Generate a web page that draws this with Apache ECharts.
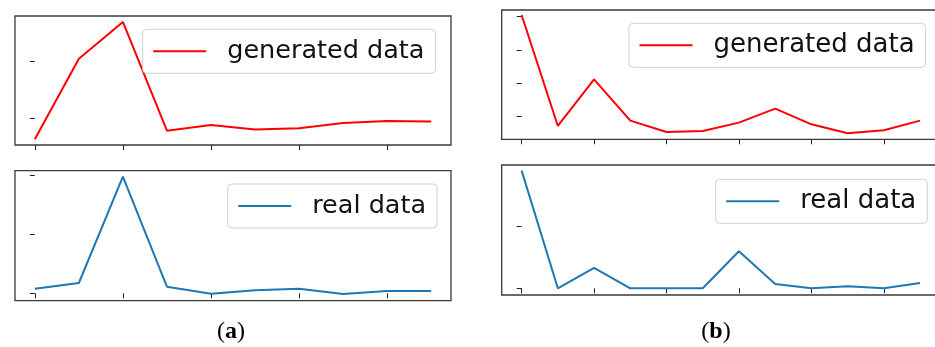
<!DOCTYPE html>
<html>
<head>
<meta charset="utf-8">
<script src="https://cdn.jsdelivr.net/npm/echarts@6/dist/echarts.min.js"></script>
<style>
html,body{margin:0;padding:0;background:#fff;}
#chart{width:935px;height:347px;}
</style>
</head>
<body>
<div id="chart"></div>
<script>
// ---- data ----
const stepsA = [0,1,2,3,4,5,6,7,8,9];
const generatedA = [0.626, 2.04, 2.684, 0.777, 0.877, 0.80, 0.82, 0.912, 0.947, 0.94];
const realA = [0.078, 0.175, 1.983, 0.112, -0.007, 0.051, 0.078, -0.012, 0.039, 0.039];
const stepsB = [0,1,2,3,4,5,6,7,8,9,10,11];
const generatedB = [4.05, 0.72, 2.12, 0.88, 0.54, 0.57, 0.82, 1.24, 0.77, 0.50, 0.59, 0.88];
const realB = [1.888, 0.0, 0.326, 0.0, 0.0, 0.0, 0.594, 0.069, 0.0, 0.032, 0.0, 0.085];
const xTicksA = [0,2,4,6,8];
const xTicksB = [0,2,4,6,8,10];
const yTicksGenA = [1,2];
const yTicksRealA = [0,1,2];
const yTicksGenB = [1,2,3,4];
const yTicksRealB = [0,1];
const captions = ['a','b'];

const pairs = (xs, ys) => xs.map((x,i)=>[x, ys[i]]);

const frameColor = '#3a3a3a';
const grids = [
  {left:15, top:16, width:436, height:129},
  {left:15, top:170.7, width:436, height:130},
  {left:501.7, top:10, width:438.3, height:129.3},
  {left:501.7, top:165, width:438.3, height:130}
];
const xCfg = [
  {min:-0.45, max:9.45, ticks:xTicksA},
  {min:-0.45, max:9.45, ticks:xTicksA},
  {min:-0.55, max:11.55, ticks:xTicksB},
  {min:-0.55, max:11.55, ticks:xTicksB}
];
const yCfg = [
  {min:0.526, max:2.789, ticks:yTicksGenA},
  {min:-0.126, max:2.085, ticks:yTicksRealA},
  {min:0.32, max:4.20, ticks:yTicksGenB},
  {min:-0.108, max:1.979, ticks:yTicksRealB}
];

const option = {
  animation:false,
  backgroundColor:'#fff',
  grid: grids.map(g=>Object.assign({show:true, borderColor:frameColor, borderWidth:1.3, backgroundColor:'transparent', containLabel:false, outerBoundsMode:'none'}, g)),
  xAxis: xCfg.map((c,i)=>({
    type:'value', gridIndex:i, min:c.min, max:c.max,
    axisLine:{show:false},
    axisTick:{show:true, length:5, inside:false, customValues:c.ticks, lineStyle:{color:'#222', width:1}},
    axisLabel:{show:false},
    splitLine:{show:false}
  })),
  yAxis: yCfg.map((c,i)=>({
    type:'value', gridIndex:i, min:c.min, max:c.max,
    axisLine:{show:false},
    axisTick:{show:true, length:5, inside:false, customValues:c.ticks, lineStyle:{color:'#222', width:1}},
    axisLabel:{show:false},
    splitLine:{show:false}
  })),
  legend: [
    {data:['generated data'], left:142.7, top:29.3},
    {data:['real data'], left:227.7, top:184},
    {data:['generated data'], left:629, top:23.3},
    {data:['real data'], left:715.7, top:179.3}
  ].map((l,i)=>Object.assign({
    orient:'horizontal', itemWidth:53, itemHeight:12, selectedMode:false,
    itemStyle:{opacity:0},
    lineStyle:{width:2},
    backgroundColor:'rgba(255,255,255,0.8)', borderColor:'#d0d0d0', borderWidth:1, borderRadius:4,
    padding:[7,11,7,9.5], itemGap:0,
    textStyle:{fontFamily:'DejaVu Sans', fontSize: i<2?25.5:26, color:'#111', padding:[0,0,0,16], lineHeight:30}
  }, l)),
  series: [
    {name:'generated data', type:'line', xAxisIndex:0, yAxisIndex:0, data:pairs(stepsA, generatedA), color:'#ff0000'},
    {name:'real data', type:'line', xAxisIndex:1, yAxisIndex:1, data:pairs(stepsA, realA), color:'#1f77b4'},
    {name:'generated data', type:'line', xAxisIndex:2, yAxisIndex:2, data:pairs(stepsB, generatedB), color:'#ff0000'},
    {name:'real data', type:'line', xAxisIndex:3, yAxisIndex:3, data:pairs(stepsB, realB), color:'#1f77b4'}
  ].map(s=>Object.assign({symbol:'none', showSymbol:false, lineStyle:{width:2}, clip:true, z:2}, s)),
  graphic: [
    {type:'text', x:231, y:332, style:{text:'({b|'+captions[0]+'})', align:'center', verticalAlign:'middle', fontFamily:'Liberation Serif', fontSize:24, fill:'#000', rich:{b:{fontWeight:'bold', fontFamily:'Liberation Serif', fontSize:24}}}},
    {type:'text', x:716, y:332, style:{text:'({b|'+captions[1]+'})', align:'center', verticalAlign:'middle', fontFamily:'Liberation Serif', fontSize:24, fill:'#000', rich:{b:{fontWeight:'bold', fontFamily:'Liberation Serif', fontSize:24}}}}
  ]
};
const chart = echarts.init(document.getElementById('chart'), null, {renderer:'canvas'});
chart.setOption(option);
</script>
</body>
</html>
